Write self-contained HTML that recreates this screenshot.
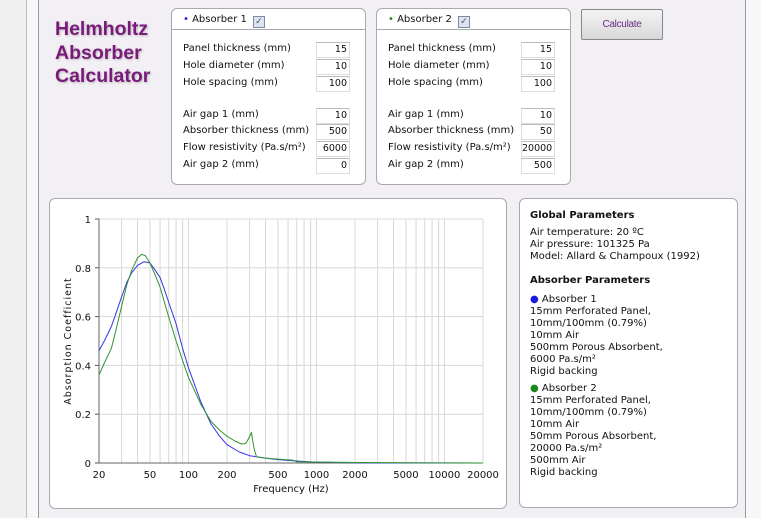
<!DOCTYPE html>
<html><head><meta charset="utf-8"><style>
body{margin:0;width:761px;height:518px;background:#f7f7f7;font-family:"DejaVu Sans","Liberation Sans",sans-serif;font-size:10px;color:#111;position:relative;overflow:hidden}
.abs{position:absolute}
.box{position:absolute;background:#fff;border:1px solid #aaa;border-radius:6px}
.row{position:absolute;left:11px;white-space:nowrap}
.inp{position:absolute;left:144px;width:30px;height:14px;border:1px solid #ddd;border-top-color:#bbb;text-align:right;font-size:9.5px;line-height:14px;padding-right:2px;background:#fff}
.hdr{position:absolute;left:0;right:0;top:0;height:20px;border-bottom:1px solid #aaa}
.chk{display:inline-block;width:10px;height:10px;border:1px solid #7a8aa8;background:#dde4ee;vertical-align:-2px;margin-left:6px;font-size:9px;line-height:10px;text-align:center;color:#456}
</style></head><body>
<div class="abs" style="left:0;top:0;width:26px;height:518px;background:#f0f0f0;border-right:1px solid #bbb"></div>
<div class="abs" style="left:38px;top:0;width:706px;height:518px;background:#f3f0f5;border-left:1px solid #999;border-right:1px solid #999"></div>
<div class="abs" style="left:55px;top:18px;font-family:'Liberation Sans',sans-serif;font-weight:bold;font-size:19.5px;line-height:23.5px;color:#7a1a7a;text-shadow:1px 1px 2px #bbb">Helmholtz<br>Absorber<br>Calculator</div>

<div class="box" style="left:171px;top:8px;width:193px;height:175px">
 <div class="hdr"><span class="row" style="top:5px;left:11px"><span style="color:#1a1ae0">•</span> Absorber 1<span class="chk">✓</span></span></div>
 <div class="row" style="top:34px">Panel thickness (mm)</div><div class="inp" style="top:33px">15</div>
 <div class="row" style="top:51px">Hole diameter (mm)</div><div class="inp" style="top:50px">10</div>
 <div class="row" style="top:68px">Hole spacing (mm)</div><div class="inp" style="top:67px">100</div>
 <div class="row" style="top:100px">Air gap 1 (mm)</div><div class="inp" style="top:99px">10</div>
 <div class="row" style="top:116px">Absorber thickness (mm)</div><div class="inp" style="top:115px">500</div>
 <div class="row" style="top:133px">Flow resistivity (Pa.s/m²)</div><div class="inp" style="top:132px">6000</div>
 <div class="row" style="top:150px">Air gap 2 (mm)</div><div class="inp" style="top:149px">0</div>
</div>

<div class="box" style="left:376px;top:8px;width:193px;height:175px">
 <div class="hdr"><span class="row" style="top:5px;left:11px"><span style="color:#1a8a1a">•</span> Absorber 2<span class="chk">✓</span></span></div>
 <div class="row" style="top:34px">Panel thickness (mm)</div><div class="inp" style="top:33px">15</div>
 <div class="row" style="top:51px">Hole diameter (mm)</div><div class="inp" style="top:50px">10</div>
 <div class="row" style="top:68px">Hole spacing (mm)</div><div class="inp" style="top:67px">100</div>
 <div class="row" style="top:100px">Air gap 1 (mm)</div><div class="inp" style="top:99px">10</div>
 <div class="row" style="top:116px">Absorber thickness (mm)</div><div class="inp" style="top:115px">50</div>
 <div class="row" style="top:133px">Flow resistivity (Pa.s/m²)</div><div class="inp" style="top:132px">20000</div>
 <div class="row" style="top:150px">Air gap 2 (mm)</div><div class="inp" style="top:149px">500</div>
</div>

<div class="abs" style="left:581px;top:9px;width:80px;height:29px;border:1px solid #888;border-radius:2px;background:linear-gradient(#f4f4f4,#d8d8d8);color:#6a2a8a;font-family:'Liberation Sans',sans-serif;font-size:10px;text-align:center;line-height:29px;letter-spacing:-0.3px">Calculate</div>

<div class="box" style="left:49px;top:198px;width:456px;height:309px"></div>
<svg class="abs" style="left:0;top:0" width="761" height="518" id="chart"></svg>

<div class="box" style="left:519px;top:198px;width:217px;height:308px;line-height:12px;font-size:10px">
 <div style="position:absolute;left:10px;top:11px">
 <b>Global Parameters</b><div style="height:5px"></div>
 Air temperature: 20 ºC<br>Air pressure: 101325 Pa<br>Model: Allard &amp; Champoux (1992)<div style="height:12px"></div>
 <b>Absorber Parameters</b><div style="height:7px"></div>
 <span style="color:#1a1ae0">●</span> Absorber 1<br>15mm Perforated Panel,<br>10mm/100mm (0.79%)<br>10mm Air<br>500mm Porous Absorbent,<br>6000 Pa.s/m²<br>Rigid backing<div style="height:5px"></div>
 <span style="color:#1a8a1a">●</span> Absorber 2<br>15mm Perforated Panel,<br>10mm/100mm (0.79%)<br>10mm Air<br>50mm Porous Absorbent,<br>20000 Pa.s/m²<br>500mm Air<br>Rigid backing
 </div>
</div>

<script>
const xTicks=[20,50,100,200,500,1000,2000,5000,10000,20000];
const yTicks=[0,0.2,0.4,0.6,0.8,1];
const freqs1=[20,22,25,27,30,33,36,40,45,50,55,60,65,70,80,90,100,110,125,150,175,200,250,300,400,500,700,1000,2000,20000];
const abs1=[0.46,0.50,0.56,0.61,0.68,0.74,0.78,0.81,0.825,0.82,0.79,0.76,0.71,0.66,0.57,0.47,0.39,0.33,0.25,0.16,0.11,0.075,0.045,0.03,0.02,0.014,0.008,0.003,0.001,0];
const freqs2=[20,22,25,27,30,33,36,40,43,46,50,55,60,70,80,90,100,125,150,175,200,230,260,280,295,310,325,340,400,500,650,700,2000,20000];
const abs2=[0.36,0.41,0.47,0.54,0.64,0.73,0.79,0.84,0.855,0.85,0.82,0.77,0.72,0.6,0.5,0.42,0.35,0.24,0.17,0.135,0.11,0.09,0.078,0.08,0.1,0.125,0.06,0.025,0.02,0.016,0.012,0.005,0.002,0];
const X0=99,X1=483,Y0=463,Y1=219;
function sx(f){return X0+(Math.log10(f)-Math.log10(20))/3*(X1-X0);}
function sy(v){return Y0-v*(Y0-Y1);}
const svg=document.getElementById('chart');const NS='http://www.w3.org/2000/svg';
function mk(t,a){const e=document.createElementNS(NS,t);for(const k in a)e.setAttribute(k,a[k]);svg.appendChild(e);return e;}
for(let d=10;d<=10000;d*=10)for(let m=1;m<=9;m++){const f=d*m;if(f<20||f>20000)continue;
 const l=mk('line',{x1:sx(f),x2:sx(f),y1:Y1,y2:Y0,stroke:'#d8d8d8','stroke-width':1});
 }
yTicks.forEach(v=>{const l=mk('line',{x1:X0,x2:X1,y1:sy(v),y2:sy(v),stroke:'#d8d8d8'});
 
 const t=mk('text',{x:X0-8,y:sy(v)+4,'text-anchor':'end','font-size':'10',fill:'#111'});t.textContent=String(v);
 
 const tk=mk('line',{x1:X0-4,x2:X0,y1:sy(v),y2:sy(v),stroke:'#555'});
 });
xTicks.forEach(f=>{const t=mk('text',{x:sx(f),y:Y0+15,'text-anchor':'middle','font-size':'10',fill:'#111'});t.textContent=String(f);
 });
let a=mk('line',{x1:X0,x2:X0,y1:Y1,y2:Y0,stroke:'#666'});
a=mk('line',{x1:X0,x2:X1,y1:Y0,y2:Y0,stroke:'#666'});
function series(fs,vs,c,name){const p=mk('polyline',{points:fs.map((f,i)=>sx(f).toFixed(1)+','+sy(vs[i]).toFixed(1)).join(' '),fill:'none',stroke:c,'stroke-width':1,'stroke-linejoin':'round'});
 }
series(freqs1,abs1,'#3535e8','absorber-1-line');
series(freqs2,abs2,'#2f952f','absorber-2-line');
let t=mk('text',{x:291,y:492,'text-anchor':'middle','font-size':'10',fill:'#111'});t.textContent='Frequency (Hz)';

t=mk('text',{x:0,y:0,'text-anchor':'middle','font-size':'9.5','letter-spacing':'1',fill:'#111',transform:'translate(71,341) rotate(-90)'});t.textContent='Absorption Coefficient';

</script>
</body></html>
